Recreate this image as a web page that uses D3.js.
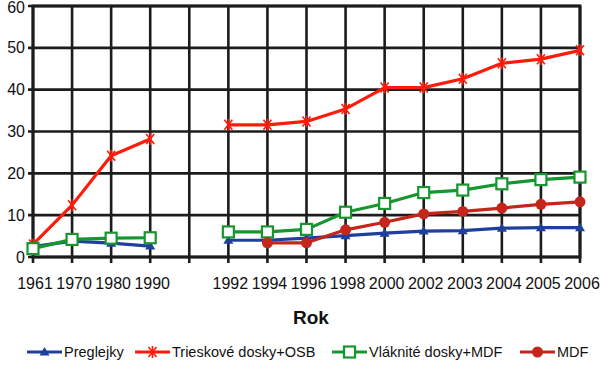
<!DOCTYPE html>
<html><head><meta charset="utf-8">
<script src="https://cdn.jsdelivr.net/npm/d3@7"></script>
<style>body{margin:0;background:#fff}svg{display:block}text{font-family:Arial,"Liberation Sans",sans-serif}</style>
</head><body><svg id="c" width="600" height="374"></svg>
<script>
const categories = ["1961","1970","1980","1990","","1992","1994","1996","1998","2000","2002","2003","2004","2005","2006"];
const yTicks = [0,10,20,30,40,50,60];
const preglejky = [2.5,3.8,3.3,2.6,null,4.0,4.0,4.5,5.1,5.7,6.2,6.3,6.9,7.0,7.0];
const trieskove = [3.0,12.4,24.2,28.2,null,31.6,31.6,32.4,35.4,40.5,40.5,42.6,46.3,47.3,49.4];
const vlaknite = [2.0,4.2,4.5,4.6,null,6.0,6.0,6.6,10.7,12.8,15.4,16.0,17.5,18.5,19.1];
const mdf = [null,null,null,null,null,null,3.4,3.4,6.5,8.3,10.3,10.9,11.7,12.6,13.2];
const seriesNames = ["Preglejky","Trieskové dosky+OSB","Vláknité dosky+MDF","MDF"];
const xTitle = "Rok";

const series = [
  {name:seriesNames[0], values:preglejky, color:"#1f3f9c", marker:"tri"},
  {name:seriesNames[1], values:trieskove, color:"#ff1a0a", marker:"star"},
  {name:seriesNames[2], values:vlaknite, color:"#17962f", marker:"sq"},
  {name:seriesNames[3], values:mdf, color:"#c4261c", marker:"dot"}
];

const svg = d3.select("#c");
const L=33, R=580, T=6, B=257;
const x = d3.scalePoint().domain(categories.map((c,i)=>i)).range([L,R]);
const y = d3.scaleLinear().domain([0,60]).range([B,T]);
const grid = "#1c1c1c";

svg.append("g").selectAll("line").data(yTicks).join("line")
  .attr("x1",L-5).attr("x2",R).attr("y1",d=>y(d)).attr("y2",d=>y(d))
  .attr("stroke",grid).attr("stroke-width",2.6);
svg.append("g").selectAll("line").data(categories.map((c,i)=>i)).join("line")
  .attr("x1",d=>x(d)).attr("x2",d=>x(d)).attr("y1",T).attr("y2",B+6)
  .attr("stroke",grid).attr("stroke-width",2.6);
svg.append("rect").attr("x",L).attr("y",T).attr("width",R-L).attr("height",B-T)
  .attr("fill","none").attr("stroke",grid).attr("stroke-width",3);

svg.append("g").selectAll("text").data(yTicks).join("text")
  .attr("x",25).attr("y",d=>Math.max(y(d)+5.5,13)).attr("text-anchor","end")
  .attr("font-size",16).attr("fill","#111").text(d=>d);
svg.append("g").selectAll("text").data(categories.map((c,i)=>i)).join("text")
  .attr("x",d=>x(d)+2).attr("y",289).attr("text-anchor","middle")
  .attr("font-size",16).attr("fill","#111").text(d=>categories[d]);
svg.append("text").attr("x",311).attr("y",324).attr("text-anchor","middle")
  .attr("font-size",19).attr("font-weight","bold").attr("fill","#111").text(xTitle);

function drawMarker(g, type, color, cx, cy){
  if(type==="tri"){
    g.append("path").attr("d",`M${cx},${cy-5}L${cx+5},${cy+3.5}L${cx-5},${cy+3.5}Z`).attr("fill",color);
  } else if(type==="star"){
    const p=g.append("g").attr("stroke",color).attr("stroke-width",1.6).attr("fill","none");
    p.append("path").attr("d",`M${cx-4},${cy-5}L${cx+4},${cy+5}M${cx+4},${cy-5}L${cx-4},${cy+5}M${cx},${cy-6}L${cx},${cy+6}`);
  } else if(type==="sq"){
    g.append("rect").attr("x",cx-5.5).attr("y",cy-5.5).attr("width",11).attr("height",11)
      .attr("fill","#fff").attr("stroke",color).attr("stroke-width",2.2);
  } else {
    g.append("circle").attr("cx",cx).attr("cy",cy).attr("r",5.5).attr("fill",color);
  }
}

const line = d3.line().defined(d=>d.v!=null).x(d=>x(d.i)).y(d=>y(d.v));
series.forEach(s=>{
  const pts = s.values.map((v,i)=>({i,v}));
  svg.append("path").datum(pts).attr("d",line).attr("fill","none")
    .attr("stroke",s.color).attr("stroke-width",3.2).attr("stroke-linejoin","round");
});
series.forEach(s=>{
  const g = svg.append("g");
  s.values.forEach((v,i)=>{ if(v!=null) drawMarker(g,s.marker,s.color,x(i),y(v)); });
});

const legX = [27,135,332,520];
series.forEach((s,k)=>{
  const g = svg.append("g");
  const x0=legX[k], ly=352;
  g.append("line").attr("x1",x0).attr("x2",x0+35).attr("y1",ly).attr("y2",ly)
    .attr("stroke",s.color).attr("stroke-width",3);
  drawMarker(g,s.marker,s.color,x0+17.5,ly);
  g.append("text").attr("x",x0+37).attr("y",ly+5).attr("font-size",14.5).attr("fill","#111").text(s.name);
});
</script></body></html>
